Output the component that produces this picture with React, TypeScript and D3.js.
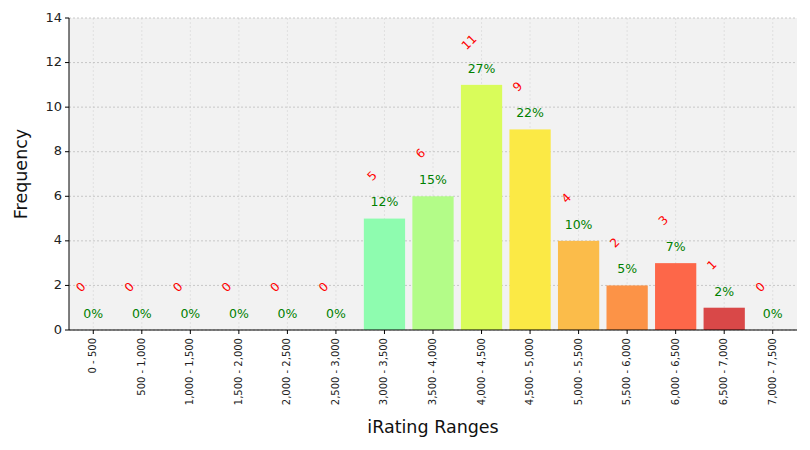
import React from "react";
import * as d3 from "d3";

const categories = ["0 - 500","500 - 1,000","1,000 - 1,500","1,500 - 2,000","2,000 - 2,500","2,500 - 3,000","3,000 - 3,500","3,500 - 4,000","4,000 - 4,500","4,500 - 5,000","5,000 - 5,500","5,500 - 6,000","6,000 - 6,500","6,500 - 7,000","7,000 - 7,500"];
const counts = [0,0,0,0,0,0,5,6,11,9,4,2,3,1,0];
const percents = ["0%","0%","0%","0%","0%","0%","12%","15%","27%","22%","10%","5%","7%","2%","0%"];
const barColors = ["#5ad8f0","#5ae8e0","#60f0d0","#70f8c0","#80fcb8","#88fcb0","#8efcaf","#b3fc88","#d9fc5a","#fbe945","#fbbc4a","#fc9347","#fd6749","#d94848","#c03838"];
const yTicks = [0,2,4,6,8,10,12,14];

export default function App() {
  const W = 810, H = 450;
  const left = 69, right = 797, top = 18, bottom = 330;
  const x = d3.scaleLinear().domain([-0.5, categories.length - 0.5]).range([left, right]);
  const y = d3.scaleLinear().domain([0, 14]).range([bottom, top]);
  const bw = (x(0.85) - x(0));
  const font = "DejaVu Sans, sans-serif";
  return (
    <svg width={W} height={H} style={{ position: "absolute", left: 0, top: 0, background: "#fff" }} fontFamily={font}>
      <rect x={left} y={top} width={right - left} height={bottom - top} fill="#f2f2f2" />
      {categories.map((c, i) => (
        <line key={"vg" + i} x1={x(i)} x2={x(i)} y1={top} y2={bottom} stroke="#dcdcdc" strokeWidth={0.8} strokeDasharray="2,2" />
      ))}
      {yTicks.map((t) => (
        <line key={"hg" + t} x1={left} x2={right} y1={y(t)} y2={y(t)} stroke="#bdbdbd" strokeWidth={0.8} strokeDasharray="2,2" />
      ))}
      {counts.map((v, i) => (
        <rect key={"b" + i} x={x(i) - bw / 2} y={y(v)} width={bw} height={y(0) - y(v)} fill={barColors[i]} />
      ))}
      {counts.map((v, i) => (
        <text key={"pc" + i} x={x(i)} y={y(v + 0.7)} textAnchor="middle" dominantBaseline="middle" fill="green" fontSize={12.5}>{percents[i]}</text>
      ))}
      {counts.map((v, i) => (
        <text key={"ct" + i} transform={`translate(${x(i) - 12},${y(v + 1.9)}) rotate(-45)`} textAnchor="middle" dominantBaseline="middle" fill="red" fontSize={12}>{v}</text>
      ))}
      <line x1={left} x2={left} y1={top} y2={bottom} stroke="#000" strokeWidth={1} />
      <line x1={left} x2={right} y1={bottom} y2={bottom} stroke="#000" strokeWidth={1} />
      {yTicks.map((t) => (
        <g key={"yt" + t}>
          <line x1={left - 4} x2={left} y1={y(t)} y2={y(t)} stroke="#000" />
          <text x={left - 7} y={y(t)} textAnchor="end" dominantBaseline="middle" fontSize={13} fill="#222">{t}</text>
        </g>
      ))}
      {categories.map((c, i) => (
        <g key={"xt" + i}>
          <line x1={x(i)} x2={x(i)} y1={bottom} y2={bottom + 4} stroke="#000" />
          <text transform={`translate(${x(i)},${bottom + 8}) rotate(-90)`} textAnchor="end" dominantBaseline="middle" fontSize={10} fill="#222">{c}</text>
        </g>
      ))}
      <text x={(left + right) / 2} y={428} textAnchor="middle" dominantBaseline="middle" fontSize={17.5} fill="#111">iRating Ranges</text>
      <text transform={`translate(22,${(top + bottom) / 2}) rotate(-90)`} textAnchor="middle" dominantBaseline="middle" fontSize={17.5} fill="#111">Frequency</text>
    </svg>
  );
}
